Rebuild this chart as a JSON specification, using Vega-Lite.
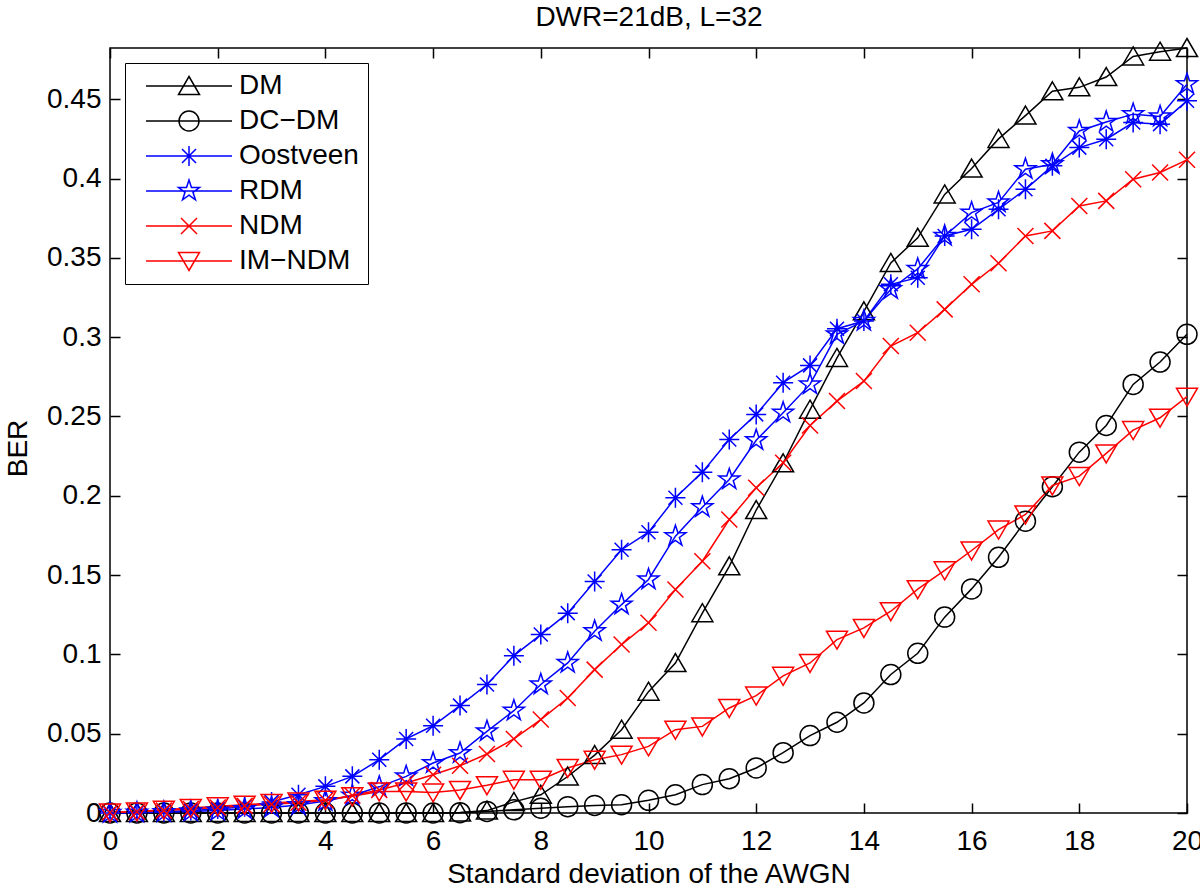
{
  "$schema": "https://vega.github.io/schema/vega-lite/v6.json",
  "autosize": {"type": "none"},
  "padding": {"left": 110, "top": 48, "right": 13, "bottom": 78},
  "width": 1077,
  "height": 765,
  "background": "white",
  "config": {
    "font": "Liberation Sans",
    "view": {"stroke": "black", "strokeWidth": 1.5},
    "axis": {"labelFont": "Liberation Sans", "titleFont": "Liberation Sans", "labelColor": "black", "titleColor": "black", "tickColor": "black", "tickWidth": 1.5, "grid": false, "domain": false, "labelFlush": false, "labelOverlap": false, "titleFontWeight": "normal"},
    "legend": {"labelFont": "Liberation Sans"}
  },
  "data": {"values": [
    {"s":"DM","x":0,"y":0},{"s":"DM","x":0.5,"y":0},{"s":"DM","x":1,"y":0},{"s":"DM","x":1.5,"y":0},{"s":"DM","x":2,"y":0},{"s":"DM","x":2.5,"y":0},{"s":"DM","x":3,"y":0},{"s":"DM","x":3.5,"y":0},{"s":"DM","x":4,"y":0},{"s":"DM","x":4.5,"y":0},{"s":"DM","x":5,"y":0},{"s":"DM","x":5.5,"y":0},{"s":"DM","x":6,"y":0},{"s":"DM","x":6.5,"y":0.0003},{"s":"DM","x":7,"y":0.0015},{"s":"DM","x":7.5,"y":0.007},{"s":"DM","x":8,"y":0.0115},{"s":"DM","x":8.5,"y":0.023},{"s":"DM","x":9,"y":0.0365},{"s":"DM","x":9.5,"y":0.0525},{"s":"DM","x":10,"y":0.0765},{"s":"DM","x":10.5,"y":0.0945},{"s":"DM","x":11,"y":0.126},{"s":"DM","x":11.5,"y":0.1555},{"s":"DM","x":12,"y":0.191},{"s":"DM","x":12.5,"y":0.2205},{"s":"DM","x":13,"y":0.2543},{"s":"DM","x":13.5,"y":0.2869},{"s":"DM","x":14,"y":0.3163},{"s":"DM","x":14.5,"y":0.3468},{"s":"DM","x":15,"y":0.3626},{"s":"DM","x":15.5,"y":0.39},{"s":"DM","x":16,"y":0.4063},{"s":"DM","x":16.5,"y":0.425},{"s":"DM","x":17,"y":0.4397},{"s":"DM","x":17.5,"y":0.455},{"s":"DM","x":18,"y":0.4575},{"s":"DM","x":18.5,"y":0.464},{"s":"DM","x":19,"y":0.477},{"s":"DM","x":19.5,"y":0.48},{"s":"DM","x":20,"y":0.4823},
    {"s":"DC−DM","x":0,"y":0},{"s":"DC−DM","x":0.5,"y":0},{"s":"DC−DM","x":1,"y":0},{"s":"DC−DM","x":1.5,"y":0},{"s":"DC−DM","x":2,"y":0},{"s":"DC−DM","x":2.5,"y":0},{"s":"DC−DM","x":3,"y":0},{"s":"DC−DM","x":3.5,"y":0},{"s":"DC−DM","x":4,"y":0},{"s":"DC−DM","x":4.5,"y":0},{"s":"DC−DM","x":5,"y":0},{"s":"DC−DM","x":5.5,"y":0},{"s":"DC−DM","x":6,"y":0},{"s":"DC−DM","x":6.5,"y":0.0002},{"s":"DC−DM","x":7,"y":0.001},{"s":"DC−DM","x":7.5,"y":0.002},{"s":"DC−DM","x":8,"y":0.003},{"s":"DC−DM","x":8.5,"y":0.004},{"s":"DC−DM","x":9,"y":0.0048},{"s":"DC−DM","x":9.5,"y":0.0052},{"s":"DC−DM","x":10,"y":0.008},{"s":"DC−DM","x":10.5,"y":0.0115},{"s":"DC−DM","x":11,"y":0.0179},{"s":"DC−DM","x":11.5,"y":0.0216},{"s":"DC−DM","x":12,"y":0.0284},{"s":"DC−DM","x":12.5,"y":0.038},{"s":"DC−DM","x":13,"y":0.0488},{"s":"DC−DM","x":13.5,"y":0.0572},{"s":"DC−DM","x":14,"y":0.0694},{"s":"DC−DM","x":14.5,"y":0.0873},{"s":"DC−DM","x":15,"y":0.1007},{"s":"DC−DM","x":15.5,"y":0.1235},{"s":"DC−DM","x":16,"y":0.1413},{"s":"DC−DM","x":16.5,"y":0.1612},{"s":"DC−DM","x":17,"y":0.184},{"s":"DC−DM","x":17.5,"y":0.2057},{"s":"DC−DM","x":18,"y":0.2275},{"s":"DC−DM","x":18.5,"y":0.2443},{"s":"DC−DM","x":19,"y":0.2702},{"s":"DC−DM","x":19.5,"y":0.2843},{"s":"DC−DM","x":20,"y":0.3018},
    {"s":"Oostveen","x":0,"y":0},{"s":"Oostveen","x":0.5,"y":0.0003},{"s":"Oostveen","x":1,"y":0.0008},{"s":"Oostveen","x":1.5,"y":0.0015},{"s":"Oostveen","x":2,"y":0.0025},{"s":"Oostveen","x":2.5,"y":0.004},{"s":"Oostveen","x":3,"y":0.007},{"s":"Oostveen","x":3.5,"y":0.0115},{"s":"Oostveen","x":4,"y":0.0168},{"s":"Oostveen","x":4.5,"y":0.0231},{"s":"Oostveen","x":5,"y":0.0336},{"s":"Oostveen","x":5.5,"y":0.0467},{"s":"Oostveen","x":6,"y":0.055},{"s":"Oostveen","x":6.5,"y":0.0677},{"s":"Oostveen","x":7,"y":0.081},{"s":"Oostveen","x":7.5,"y":0.0992},{"s":"Oostveen","x":8,"y":0.1125},{"s":"Oostveen","x":8.5,"y":0.126},{"s":"Oostveen","x":9,"y":0.146},{"s":"Oostveen","x":9.5,"y":0.166},{"s":"Oostveen","x":10,"y":0.177},{"s":"Oostveen","x":10.5,"y":0.1987},{"s":"Oostveen","x":11,"y":0.2149},{"s":"Oostveen","x":11.5,"y":0.2355},{"s":"Oostveen","x":12,"y":0.2513},{"s":"Oostveen","x":12.5,"y":0.2713},{"s":"Oostveen","x":13,"y":0.2822},{"s":"Oostveen","x":13.5,"y":0.3053},{"s":"Oostveen","x":14,"y":0.3102},{"s":"Oostveen","x":14.5,"y":0.3333},{"s":"Oostveen","x":15,"y":0.3375},{"s":"Oostveen","x":15.5,"y":0.3638},{"s":"Oostveen","x":16,"y":0.368},{"s":"Oostveen","x":16.5,"y":0.3806},{"s":"Oostveen","x":17,"y":0.3932},{"s":"Oostveen","x":17.5,"y":0.408},{"s":"Oostveen","x":18,"y":0.4195},{"s":"Oostveen","x":18.5,"y":0.4248},{"s":"Oostveen","x":19,"y":0.4353},{"s":"Oostveen","x":19.5,"y":0.4343},{"s":"Oostveen","x":20,"y":0.449},
    {"s":"RDM","x":0,"y":0},{"s":"RDM","x":0.5,"y":0.0002},{"s":"RDM","x":1,"y":0.0005},{"s":"RDM","x":1.5,"y":0.001},{"s":"RDM","x":2,"y":0.0015},{"s":"RDM","x":2.5,"y":0.0025},{"s":"RDM","x":3,"y":0.0035},{"s":"RDM","x":3.5,"y":0.005},{"s":"RDM","x":4,"y":0.0075},{"s":"RDM","x":4.5,"y":0.011},{"s":"RDM","x":5,"y":0.0165},{"s":"RDM","x":5.5,"y":0.0231},{"s":"RDM","x":6,"y":0.0315},{"s":"RDM","x":6.5,"y":0.0378},{"s":"RDM","x":7,"y":0.0515},{"s":"RDM","x":7.5,"y":0.0645},{"s":"RDM","x":8,"y":0.081},{"s":"RDM","x":8.5,"y":0.0946},{"s":"RDM","x":9,"y":0.1146},{"s":"RDM","x":9.5,"y":0.1314},{"s":"RDM","x":10,"y":0.1472},{"s":"RDM","x":10.5,"y":0.1745},{"s":"RDM","x":11,"y":0.1928},{"s":"RDM","x":11.5,"y":0.2103},{"s":"RDM","x":12,"y":0.235},{"s":"RDM","x":12.5,"y":0.2524},{"s":"RDM","x":13,"y":0.2702},{"s":"RDM","x":13.5,"y":0.3018},{"s":"RDM","x":14,"y":0.3102},{"s":"RDM","x":14.5,"y":0.3302},{"s":"RDM","x":15,"y":0.343},{"s":"RDM","x":15.5,"y":0.3638},{"s":"RDM","x":16,"y":0.3785},{"s":"RDM","x":16.5,"y":0.3849},{"s":"RDM","x":17,"y":0.4059},{"s":"RDM","x":17.5,"y":0.409},{"s":"RDM","x":18,"y":0.43},{"s":"RDM","x":18.5,"y":0.4357},{"s":"RDM","x":19,"y":0.4406},{"s":"RDM","x":19.5,"y":0.4391},{"s":"RDM","x":20,"y":0.4595},
    {"s":"NDM","x":0,"y":0.0003},{"s":"NDM","x":0.5,"y":0.0008},{"s":"NDM","x":1,"y":0.0015},{"s":"NDM","x":1.5,"y":0.0025},{"s":"NDM","x":2,"y":0.0035},{"s":"NDM","x":2.5,"y":0.0045},{"s":"NDM","x":3,"y":0.0055},{"s":"NDM","x":3.5,"y":0.0065},{"s":"NDM","x":4,"y":0.008},{"s":"NDM","x":4.5,"y":0.011},{"s":"NDM","x":5,"y":0.0145},{"s":"NDM","x":5.5,"y":0.0189},{"s":"NDM","x":6,"y":0.0241},{"s":"NDM","x":6.5,"y":0.0298},{"s":"NDM","x":7,"y":0.0372},{"s":"NDM","x":7.5,"y":0.0467},{"s":"NDM","x":8,"y":0.0589},{"s":"NDM","x":8.5,"y":0.0725},{"s":"NDM","x":9,"y":0.0904},{"s":"NDM","x":9.5,"y":0.1062},{"s":"NDM","x":10,"y":0.1199},{"s":"NDM","x":10.5,"y":0.1409},{"s":"NDM","x":11,"y":0.1587},{"s":"NDM","x":11.5,"y":0.185},{"s":"NDM","x":12,"y":0.205},{"s":"NDM","x":12.5,"y":0.2208},{"s":"NDM","x":13,"y":0.2443},{"s":"NDM","x":13.5,"y":0.2597},{"s":"NDM","x":14,"y":0.2723},{"s":"NDM","x":14.5,"y":0.2944},{"s":"NDM","x":15,"y":0.3028},{"s":"NDM","x":15.5,"y":0.3175},{"s":"NDM","x":16,"y":0.3333},{"s":"NDM","x":16.5,"y":0.3466},{"s":"NDM","x":17,"y":0.3638},{"s":"NDM","x":17.5,"y":0.367},{"s":"NDM","x":18,"y":0.3827},{"s":"NDM","x":18.5,"y":0.3859},{"s":"NDM","x":19,"y":0.3996},{"s":"NDM","x":19.5,"y":0.4038},{"s":"NDM","x":20,"y":0.4118},
    {"s":"IM−NDM","x":0,"y":0.0003},{"s":"IM−NDM","x":0.5,"y":0.001},{"s":"IM−NDM","x":1,"y":0.0021},{"s":"IM−NDM","x":1.5,"y":0.0032},{"s":"IM−NDM","x":2,"y":0.0042},{"s":"IM−NDM","x":2.5,"y":0.0052},{"s":"IM−NDM","x":3,"y":0.0063},{"s":"IM−NDM","x":3.5,"y":0.0073},{"s":"IM−NDM","x":4,"y":0.0084},{"s":"IM−NDM","x":4.5,"y":0.0105},{"s":"IM−NDM","x":5,"y":0.0136},{"s":"IM−NDM","x":5.5,"y":0.0136},{"s":"IM−NDM","x":6,"y":0.013},{"s":"IM−NDM","x":6.5,"y":0.0145},{"s":"IM−NDM","x":7,"y":0.0175},{"s":"IM−NDM","x":7.5,"y":0.021},{"s":"IM−NDM","x":8,"y":0.021},{"s":"IM−NDM","x":8.5,"y":0.0284},{"s":"IM−NDM","x":9,"y":0.0336},{"s":"IM−NDM","x":9.5,"y":0.0368},{"s":"IM−NDM","x":10,"y":0.042},{"s":"IM−NDM","x":10.5,"y":0.0525},{"s":"IM−NDM","x":11,"y":0.0546},{"s":"IM−NDM","x":11.5,"y":0.0662},{"s":"IM−NDM","x":12,"y":0.074},{"s":"IM−NDM","x":12.5,"y":0.0865},{"s":"IM−NDM","x":13,"y":0.0946},{"s":"IM−NDM","x":13.5,"y":0.1093},{"s":"IM−NDM","x":14,"y":0.1167},{"s":"IM−NDM","x":14.5,"y":0.1272},{"s":"IM−NDM","x":15,"y":0.1411},{"s":"IM−NDM","x":15.5,"y":0.153},{"s":"IM−NDM","x":16,"y":0.1655},{"s":"IM−NDM","x":16.5,"y":0.1787},{"s":"IM−NDM","x":17,"y":0.1882},{"s":"IM−NDM","x":17.5,"y":0.2065},{"s":"IM−NDM","x":18,"y":0.2124},{"s":"IM−NDM","x":18.5,"y":0.2267},{"s":"IM−NDM","x":19,"y":0.2414},{"s":"IM−NDM","x":19.5,"y":0.2492},{"s":"IM−NDM","x":20,"y":0.2625}
  ]},
  "layer": [
    {
      "mark": {"type": "line", "strokeWidth": 1.5},
      "encoding": {
        "x": {"field": "x", "type": "quantitative", "scale": {"domain": [0, 20], "nice": false, "zero": false},
              "axis": {"orient": "bottom", "values": [0,2,4,6,8,10,12,14,16,18,20], "format": "d", "labelFontSize": 28, "tickSize": -10, "labelPadding": 24, "title": "Standard deviation of the AWGN", "titleFontSize": 28, "titleBaseline": "alphabetic", "titleY": 69}},
        "y": {"field": "y", "type": "quantitative", "scale": {"domain": [0, 0.4823], "nice": false, "zero": false},
              "axis": {"orient": "left", "values": [0,0.05,0.1,0.15,0.2,0.25,0.3,0.35,0.4,0.45], "format": "~g", "labelFontSize": 28, "tickSize": -10, "labelPadding": 19, "title": "BER", "titleFontSize": 28, "titleX": -92, "titleY": 400, "titleBaseline": "middle", "titleAlign": "center", "titleAngle": 270}},
        "color": {"field": "s", "type": "nominal", "scale": {"domain": ["DM","DC−DM","Oostveen","RDM","NDM","IM−NDM"], "range": ["#000000","#000000","#0000ff","#0000ff","#ff0000","#ff0000"]},
          "legend": {"title": null, "orient": "top-left", "offset": 15, "padding": 9, "strokeColor": "black", "fillColor": "white", "symbolSize": 400, "symbolStrokeWidth": 1.5, "labelFontSize": 28, "labelColor": "black", "labelOffset": 77, "rowPadding": 7,
            "encoding": {"symbols": {"fill": {"value": "transparent"}, "shape": {"value": {"expr": "datum.value === 'DM' ? 'M-0.2,0H8.4M4.1,-0.95L5.15,0.85L3.05,0.85Z' : datum.value === 'DC−DM' ? 'M-0.2,0H8.4M5.1,0A1,1,0,1,1,3.1,0A1,1,0,1,1,5.1,0Z' : datum.value === 'Oostveen' ? 'M-0.2,0H8.4M4.1,-1V1M3.4,-0.7L4.8,0.7M3.4,0.7L4.8,-0.7' : datum.value === 'RDM' ? 'M-0.2,0H8.4M4.1,-1.1L4.347,-0.34L5.146,-0.34L4.499,0.13L4.747,0.89L4.1,0.42L3.453,0.89L3.701,0.13L3.054,-0.34L3.853,-0.34Z' : datum.value === 'NDM' ? 'M-0.2,0H8.4M3.3,-0.8L4.9,0.8M3.3,0.8L4.9,-0.8' : 'M-0.2,0H8.4M4.1,0.95L5.15,-0.85L3.05,-0.85Z'"}}}}}}
      }
    },
    {
      "mark": {"type": "point", "filled": false, "size": 400, "strokeWidth": 1.5, "opacity": 1},
      "encoding": {
        "x": {"field": "x", "type": "quantitative", "axis": {"orient": "top", "values": [0,2,4,6,8,10,12,14,16,18,20], "labels": false, "title": "DWR=21dB, L=32", "titleFontSize": 28, "titleBaseline": "alphabetic", "titleY": -23, "titleX": 538.5, "titleAlign": "center", "tickSize": -10}},
        "y": {"field": "y", "type": "quantitative", "axis": {"orient": "right", "values": [0,0.05,0.1,0.15,0.2,0.25,0.3,0.35,0.4,0.45], "labels": false, "title": null, "tickSize": -10}},
        "color": {"field": "s", "type": "nominal",
          "legend": {"title": null, "orient": "top-left", "offset": 15, "padding": 9, "strokeColor": "black", "fillColor": "white", "symbolSize": 400, "symbolStrokeWidth": 1.5, "labelFontSize": 28, "labelColor": "black", "labelOffset": 77, "rowPadding": 7,
            "encoding": {"symbols": {"fill": {"value": "transparent"}, "shape": {"value": {"expr": "datum.value === 'DM' ? 'M-0.2,0H8.4M4.1,-0.95L5.15,0.85L3.05,0.85Z' : datum.value === 'DC−DM' ? 'M-0.2,0H8.4M5.1,0A1,1,0,1,1,3.1,0A1,1,0,1,1,5.1,0Z' : datum.value === 'Oostveen' ? 'M-0.2,0H8.4M4.1,-1V1M3.4,-0.7L4.8,0.7M3.4,0.7L4.8,-0.7' : datum.value === 'RDM' ? 'M-0.2,0H8.4M4.1,-1.1L4.347,-0.34L5.146,-0.34L4.499,0.13L4.747,0.89L4.1,0.42L3.453,0.89L3.701,0.13L3.054,-0.34L3.853,-0.34Z' : datum.value === 'NDM' ? 'M-0.2,0H8.4M3.3,-0.8L4.9,0.8M3.3,0.8L4.9,-0.8' : 'M-0.2,0H8.4M4.1,0.95L5.15,-0.85L3.05,-0.85Z'"}}}}}},
        "shape": {"field": "s", "type": "nominal", "legend": null,
          "scale": {"domain": ["IM−NDM","NDM","RDM","Oostveen","DC−DM","DM"],
                    "range": ["M0,0.95L1.05,-0.85L-1.05,-0.85Z", "M-0.8,-0.8L0.8,0.8M-0.8,0.8L0.8,-0.8", "M0,-1.1L0.247,-0.34L1.046,-0.34L0.399,0.13L0.647,0.89L0,0.42L-0.647,0.89L-0.399,0.13L-1.046,-0.34L-0.247,-0.34Z", "M0,-1V1M-1,0H1M-0.7,-0.7L0.7,0.7M-0.7,0.7L0.7,-0.7", "M1,0A1,1,0,1,1,-1,0A1,1,0,1,1,1,0Z", "M0,-0.95L1.05,0.85L-1.05,0.85Z"]}}
      }
    }
  ],
  "resolve": {"axis": {"x": "independent", "y": "independent"}}
}
